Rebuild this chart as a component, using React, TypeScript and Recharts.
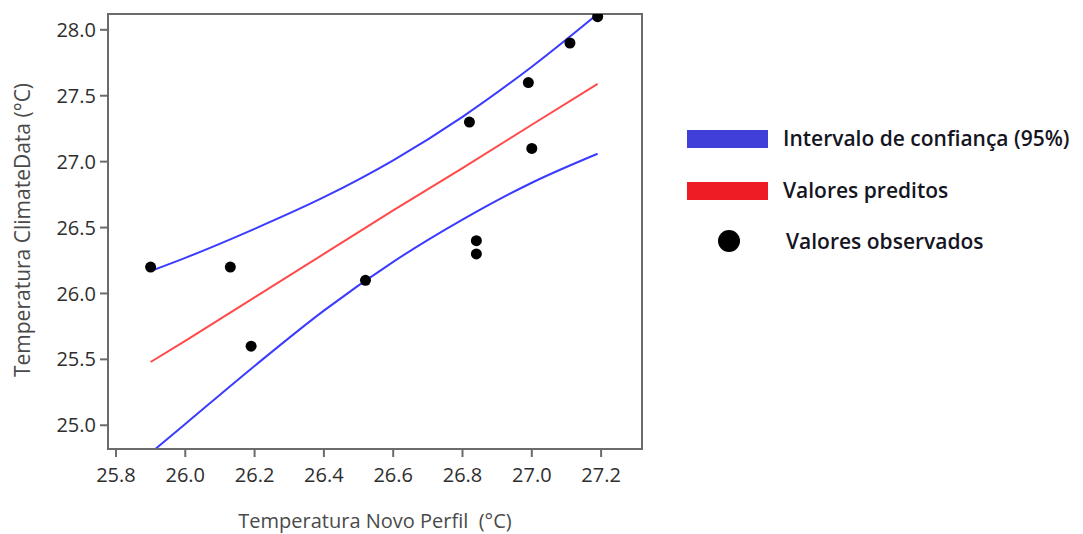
import React from 'react';
import { ComposedChart, XAxis, YAxis, Line, Scatter, Legend, ReferenceArea } from 'recharts';

// Observed points
const observedX = [25.9, 26.13, 26.19, 26.52, 26.82, 26.84, 26.84, 26.99, 27.0, 27.11, 27.19];
const observedY = [26.2, 26.2, 25.6, 26.1, 27.3, 26.4, 26.3, 27.6, 27.1, 27.9, 28.1];

// Fitted line and confidence band
const curveX = [25.9, 26.0, 26.2, 26.4, 26.6, 26.8, 27.0, 27.19];
const predicted = [25.48, 25.64, 25.97, 26.3, 26.63, 26.95, 27.28, 27.59];
const upperCI = [26.17, 26.27, 26.49, 26.73, 27.01, 27.34, 27.72, 28.12];
const lowerCI = [24.79, 25.01, 25.45, 25.87, 26.24, 26.56, 26.84, 27.06];

const xTicks = [25.8, 26.0, 26.2, 26.4, 26.6, 26.8, 27.0, 27.2];
const yTicks = [25.0, 25.5, 26.0, 26.5, 27.0, 27.5, 28.0];

const X_DOMAIN: [number, number] = [25.777, 27.318];
const Y_DOMAIN: [number, number] = [24.82, 28.12];

const legendItems = [
  { label: 'Intervalo de confiança (95%)', kind: 'rect', color: '#4040d8' },
  { label: 'Valores preditos', kind: 'rect', color: '#ee1c25' },
  { label: 'Valores observados', kind: 'dot', color: '#000000' },
];

const observed = observedX.map((x, i) => ({ x, y: observedY[i] }));
const predData = curveX.map((x, i) => ({ x, y: predicted[i] }));
const upperData = curveX.map((x, i) => ({ x, y: upperCI[i] }));
const lowerData = curveX.map((x, i) => ({ x, y: lowerCI[i] }));

const FRAME = '#6b6b6b';
const TICKFONT = { fontSize: 20, fill: '#2e2e2e', fontFamily: 'Open Sans' };

const LegendContent = () => (
  <div style={{ fontFamily: 'Open Sans', fontWeight: 600, fontSize: 21, color: '#15151f' }}>
    {legendItems.map((it, i) => (
      <div key={i} style={{ display: 'flex', alignItems: 'center', height: 52 }}>
        {it.kind === 'rect' ? (
          <div style={{ width: 81, height: 18, background: it.color, marginLeft: 7 }} />
        ) : (
          <div style={{ width: 81, height: 18, marginLeft: 7, display: 'flex', justifyContent: 'center', alignItems: 'center' }}>
            <div style={{ width: 22, height: 22, borderRadius: 11, background: it.color, marginLeft: 2, marginTop: -4 }} />
          </div>
        )}
        <span style={{ marginLeft: it.kind === 'rect' ? 15 : 18, whiteSpace: 'nowrap', marginTop: it.kind === 'rect' ? -2 : -5 }}>{it.label}</span>
      </div>
    ))}
  </div>
);

export default function App() {
  return (
    <div style={{ position: 'absolute', left: 0, top: 0, width: 1083, height: 534, background: '#fff' }}>
      <ComposedChart
        width={1083}
        height={534}
        margin={{ top: 14, right: 441, left: 0, bottom: 0 }}
      >
        <XAxis
          type="number"
          dataKey="x"
          domain={X_DOMAIN}
          ticks={xTicks}
          allowDataOverflow
          tickFormatter={(v: number) => v.toFixed(1)}
          height={85}
          tickSize={8}
          tickMargin={11}
          tick={TICKFONT}
          stroke={FRAME}
          strokeWidth={2}
          label={{
            content: () => (
              <text x={375} y={528} textAnchor="middle" fontFamily="Open Sans" fontSize={20} fill="#4a4a4a" style={{ whiteSpace: 'pre' }}>
                {'Temperatura Novo Perfil\u00a0\u00a0(°C)'}
              </text>
            ),
          }}
        />
        <YAxis
          type="number"
          dataKey="y"
          domain={Y_DOMAIN}
          ticks={yTicks}
          allowDataOverflow
          tickFormatter={(v: number) => v.toFixed(1)}
          width={108}
          tickSize={8}
          tickMargin={4}
          tick={TICKFONT}
          stroke={FRAME}
          strokeWidth={2}
          label={{
            content: () => (
              <text x={30} y={230} transform="rotate(-90 30 230)" textAnchor="middle" fontFamily="Open Sans" fontSize={21} fill="#4a4a4a">
                Temperatura ClimateData (°C)
              </text>
            ),
          }}
        />
        <ReferenceArea
          x1={X_DOMAIN[0]}
          x2={X_DOMAIN[1]}
          y1={Y_DOMAIN[0]}
          y2={Y_DOMAIN[1]}
          fill="none"
          fillOpacity={0}
          stroke={FRAME}
          strokeWidth={2}
          ifOverflow="visible"
        />
        <Line data={upperData} dataKey="y" type="monotone" stroke="#3b3bff" strokeWidth={2} dot={false} isAnimationActive={false} legendType="none" />
        <Line data={lowerData} dataKey="y" type="monotone" stroke="#3b3bff" strokeWidth={2} dot={false} isAnimationActive={false} legendType="none" />
        <Line data={predData} dataKey="y" type="linear" stroke="#ff4a4a" strokeWidth={2} dot={false} isAnimationActive={false} legendType="none" />
        <Scatter
          data={observed}
          dataKey="y"
          fill="#000"
          isAnimationActive={false}
          legendType="none"
          shape={(p: any) => <circle cx={p.cx} cy={p.cy} r={5.5} fill="#000" />}
        />
        <Legend
          layout="vertical"
          align="center"
          verticalAlign="middle"
          content={<LegendContent />}
          wrapperStyle={{ left: 680, top: 113, width: 403, height: 170 }}
        />
      </ComposedChart>
    </div>
  );
}
